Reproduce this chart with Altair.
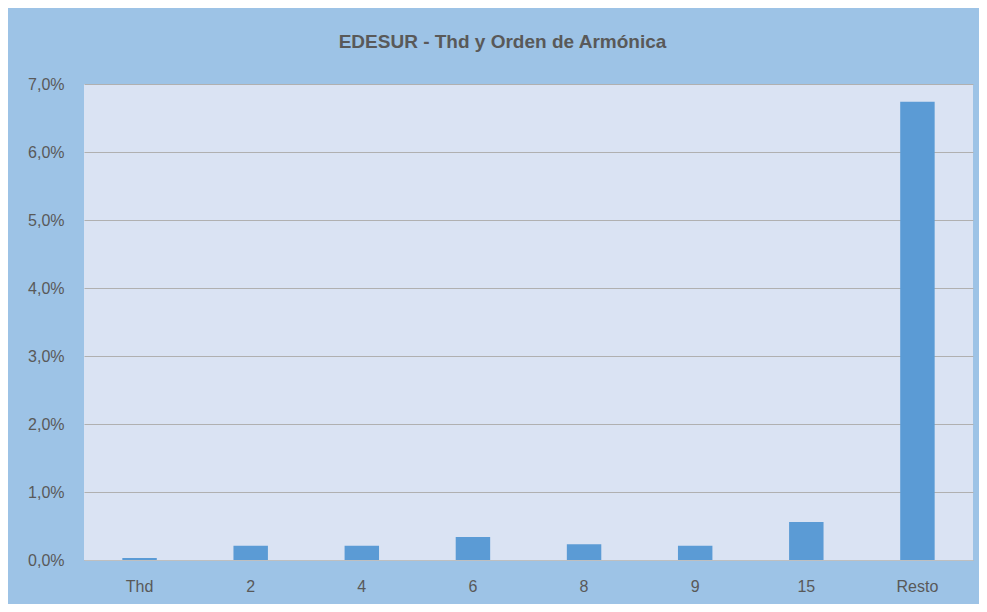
import altair as alt
import pandas as pd

categories = ["Thd", "2", "4", "6", "8", "9", "15", "Resto"]
values = [0.0003, 0.0021, 0.0021, 0.0034, 0.0023, 0.0021, 0.0056, 0.0674]

df = pd.DataFrame({"cat": categories, "val": values})

FONT = "Liberation Sans"
TXT = "#595959"

chart = (
    alt.Chart(df, title=alt.Title(
        "EDESUR - Thd y Orden de Armónica",
        fontSize=19, fontWeight="bold", color=TXT, font=FONT,
        anchor="middle", offset=24, dx=-26))
    .mark_bar(color="#5B9BD5")
    .encode(
        x=alt.X("cat:N", sort=categories,
                scale=alt.Scale(paddingInner=0.69, paddingOuter=0.345),
                axis=alt.Axis(title=None, labelAngle=0, labelFontSize=16,
                              labelColor=TXT, labelFont=FONT, labelPadding=18,
                              ticks=False, domain=True, domainColor="#BFBFBF",
                              grid=False)),
        y=alt.Y("val:Q",
                scale=alt.Scale(domain=[0, 0.07], nice=False),
                axis=alt.Axis(title=None, values=[0, 0.01, 0.02, 0.03, 0.04, 0.05, 0.06, 0.07],
                              labelExpr="replace(format(datum.value, '.1%'), '.', ',')",
                              labelFontSize=16, labelColor=TXT, labelFont=FONT,
                              labelPadding=20, ticks=False, domain=False,
                              gridColor="#B0B0B0", gridWidth=1)),
    )
    .properties(
        width=889, height=476,
        autosize=alt.AutoSizeParams(type="none"),
        padding={"left": 76, "top": 76, "right": 6, "bottom": 44},
        background="#9DC3E6",
    )
    .configure_view(fill="#DAE3F3", stroke=None)
)

chart.save("out.html", embed_options={"renderer": "svg", "actions": False})
